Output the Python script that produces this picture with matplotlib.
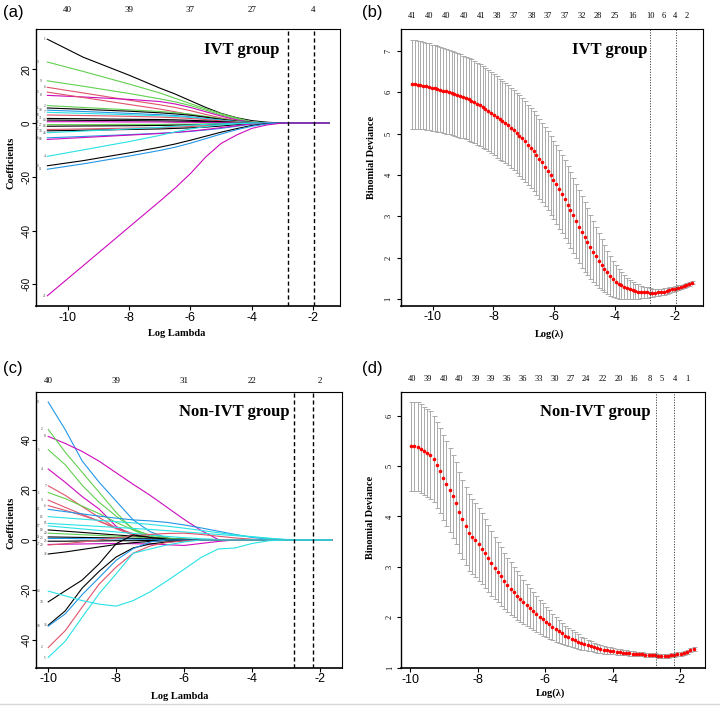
import numpy as np
import matplotlib
matplotlib.use('Agg')
import matplotlib.pyplot as plt
from matplotlib.lines import Line2D

plt.rcParams['axes.unicode_minus'] = False
SERIF = 'Liberation Serif'
SANS = 'Liberation Sans'
# R default palette used by matplot (col = 1:6)
R_COLS = ['black', '#DF536B', '#61D04F', '#2297E6', '#28E2E5', '#CD0BBC']

# ---------------- (a) IVT group: coefficient paths ----------------
a_knots = [-10.67, -9.5, -8.0, -7.0, -6.5, -6.0, -5.5, -5.0, -4.5, -4.0, -3.5, -3.0, -1.49]
a_paths = [
    [31.2, 24.5, 17.8, 13.0, 10.8, 8.3, 5.8, 3.6, 2.0, 0.9, 0.3, 0, 0],
    [22.7, 19.2, 14.5, 11.2, 9.2, 7.2, 5.3, 3.5, 1.9, 0.5, 0.1, 0, 0],
    [15.7, 13.7, 11.0, 9.0, 7.9, 6.5, 4.8, 3.0, 1.5, 0.2, 0, 0, 0],
    [13.3, 11.2, 8.5, 6.8, 5.8, 4.6, 3.2, 1.9, 0.9, 0.2, 0, 0, 0],
    [10.3, 9.7, 8.8, 8.0, 7.1, 5.8, 4.2, 2.6, 1.2, 0.3, 0, 0, 0],
    [11.5, 9.5, 6.9, 5.2, 4.2, 3.1, 2.1, 1.3, 0.6, 0.1, 0, 0, 0],
    [6.5, 5.8, 4.9, 4.3, 3.9, 3.3, 2.5, 1.6, 0.8, 0.2, 0, 0, 0],
    [5.6, 5.1, 4.4, 3.8, 3.4, 2.9, 2.2, 1.4, 0.7, 0.2, 0, 0, 0],
    [4.8, 4.3, 3.6, 3.1, 2.8, 2.3, 1.7, 1.1, 0.5, 0.1, 0, 0, 0],
    [4.0, 3.6, 3.1, 2.7, 2.5, 2.1, 1.6, 1.0, 0.5, 0.1, 0, 0, 0],
    [3.0, 2.8, 2.5, 2.2, 2.0, 1.7, 1.3, 0.8, 0.4, 0.1, 0, 0, 0],
    [1.7, 1.6, 1.4, 1.3, 1.2, 1.0, 0.8, 0.5, 0.2, 0, 0, 0, 0],
    [1.1, 1.0, 0.9, 0.8, 0.7, 0.6, 0.5, 0.3, 0.1, 0, 0, 0, 0],
    [0.5, 0.5, 0.4, 0.4, 0.3, 0.3, 0.2, 0.1, 0.05, 0, 0, 0, 0],
    [-0.6, -0.6, -0.5, -0.5, -0.4, -0.4, -0.3, -0.2, -0.1, 0, 0, 0, 0],
    [-1.2, -1.1, -1.0, -0.9, -0.8, -0.7, -0.6, -0.4, -0.2, 0, 0, 0, 0],
    [-2.4, -2.2, -1.9, -1.7, -1.5, -1.3, -1.0, -0.7, -0.4, -0.1, 0, 0, 0],
    [-2.9, -2.7, -2.4, -2.2, -2.0, -1.8, -1.5, -1.1, -0.6, -0.2, 0, 0, 0],
    [-3.6, -3.0, -2.2, -1.6, -1.2, -0.8, -0.5, -0.3, -0.1, 0, 0, 0, 0],
    [-5.5, -5.0, -4.3, -3.8, -3.5, -3.1, -2.6, -2.0, -1.2, -0.4, 0, 0, 0],
    [-6.1, -5.4, -4.5, -3.9, -3.5, -3.0, -2.4, -1.7, -1.0, -0.3, 0, 0, 0],
    [-12.4, -10.0, -6.9, -4.6, -3.3, -2.2, -1.3, -0.7, -0.3, 0, 0, 0, 0],
    [-15.9, -14.0, -11.1, -9.0, -7.8, -6.4, -4.9, -3.4, -2.1, -0.9, -0.2, 0, 0],
    [-17.2, -15.2, -12.3, -10.2, -9.0, -7.5, -5.8, -4.1, -2.5, -1.2, -0.3, 0, 0],
    [-64.3, -53.1, -38.7, -29.1, -24.2, -18.8, -12.6, -7.6, -4.5, -2.0, -0.7, 0, 0],
]
a_colors = [0, 2, 2, 1, 5, 1, 2, 0, 3, 4, 1, 0, 0, 5, 2, 0, 1, 0, 4, 3, 5, 4, 0, 3, 5]
a_tags = ['1', '3', '9', '6', '8', '5', '2', '35', '30', '7', '24', '31', '14', '22', '27',
          '16', '12', '34', '26', '33', '18', '4', '10', '11', '41']
a_top_pos = [-10, -8, -6, -4, -2]
a_top_lab = ['40', '39', '37', '27', '4']
a_vlines = [-2.83, -1.98]

# ---------------- (b) IVT group: cross-validation curve ----------------
b_range = (-10.69, -1.45)
b_mean = [6.19, 6.19, 6.18, 6.17, 6.16, 6.14, 6.13, 6.11, 6.10, 6.08,
          6.06, 6.04, 6.02, 6.00, 5.98, 5.96, 5.93, 5.91, 5.88, 5.86,
          5.83, 5.79, 5.76, 5.72, 5.68, 5.64, 5.60, 5.55, 5.50, 5.45,
          5.40, 5.35, 5.30, 5.25, 5.20, 5.14, 5.08, 5.02, 4.95, 4.88,
          4.81, 4.73, 4.65, 4.57, 4.48, 4.39, 4.30, 4.20, 4.10, 3.99,
          3.88, 3.77, 3.65, 3.53, 3.41, 3.28, 3.15, 3.02, 2.89, 2.75,
          2.62, 2.50, 2.38, 2.26, 2.14, 2.03, 1.93, 1.83, 1.73, 1.64,
          1.56, 1.49, 1.42, 1.37, 1.33, 1.29, 1.26, 1.23, 1.21, 1.19,
          1.18, 1.17, 1.16, 1.16, 1.15, 1.15, 1.15, 1.16, 1.17, 1.18,
          1.20, 1.21, 1.23, 1.25, 1.27, 1.29, 1.31, 1.33, 1.36, 1.39]
b_se = [1.07, 1.07, 1.06, 1.06, 1.06, 1.05, 1.05, 1.04, 1.04, 1.04,
        1.03, 1.03, 1.03, 1.02, 1.02, 1.02, 1.01, 1.01, 1.00, 1.00,
        1.00, 1.00, 0.99, 0.99, 0.99, 0.99, 0.98, 0.98, 0.98, 0.98,
        0.98, 0.98, 0.97, 0.97, 0.97, 0.97, 0.97, 0.97, 0.97, 0.97,
        0.97, 0.97, 0.97, 0.97, 0.97, 0.97, 0.96, 0.96, 0.96, 0.96,
        0.95, 0.95, 0.95, 0.94, 0.94, 0.93, 0.92, 0.91, 0.90, 0.88,
        0.86, 0.84, 0.81, 0.78, 0.74, 0.70, 0.66, 0.61, 0.57, 0.52,
        0.48, 0.44, 0.40, 0.36, 0.32, 0.28, 0.25, 0.22, 0.20, 0.18,
        0.17, 0.15, 0.14, 0.13, 0.11, 0.10, 0.09, 0.09, 0.08, 0.08,
        0.07, 0.07, 0.06, 0.06, 0.06, 0.05, 0.05, 0.05, 0.04, 0.04]
b_top_pos = [-10.69, -10.11, -9.55, -8.98, -8.42, -7.88, -7.33, -6.75, -6.20,
             -5.64, -5.10, -4.55, -4.01, -3.40, -2.83, -2.37, -2.01, -1.63]
b_top_lab = ['41', '40', '40', '40', '41', '38', '37', '38', '37',
             '37', '32', '28', '25', '16', '10', '6', '4', '2']
b_vlines = [-2.83, -1.98]

# ---------------- (c) Non-IVT group: coefficient paths ----------------
c_knots = [-10.0, -9.5, -9.0, -8.5, -8.0, -7.5, -7.0, -6.5, -6.0, -5.5, -5.0, -4.5, -4.0, -3.5, -3.0, -1.66]
c_paths = [
    [55.0, 44.0, 31.5, 23.0, 15.5, 8.0, 3.3, 0.7, 0, 0, 0, 0, 0, 0, 0, 0],
    [41.3, 38.5, 35.3, 31.4, 26.8, 22.2, 17.8, 13.0, 8.2, 3.8, 0.2, 0, 0, 0, 0, 0],
    [44.1, 35.0, 27.0, 19.0, 11.0, 4.0, 0.8, 0, 0, 0, 0, 0, 0, 0, 0, 0],
    [36.0, 30.0, 21.8, 15.0, 9.5, 4.5, 1.5, 0.2, 0, 0, 0, 0, 0, 0, 0, 0],
    [28.3, 23.0, 17.3, 12.3, 5.4, 1.8, 0.3, 0, 0, 0, 0, 0, 0, 0, 0, 0],
    [21.6, 17.8, 13.3, 9.0, 4.7, 2.0, 0.5, 0, 0, 0, 0, 0, 0, 0, 0, 0],
    [18.9, 16.5, 13.5, 10.5, 7.0, 4.0, 2.0, 0.8, 0.2, 0, 0, 0, 0, 0, 0, 0],
    [15.9, 13.0, 10.2, 7.5, 4.5, 2.0, 0.6, 0, 0, 0, 0, 0, 0, 0, 0, 0],
    [13.7, 11.8, 9.8, 7.5, 4.8, 2.5, 1.0, 0.3, 0, 0, 0, 0, 0, 0, 0, 0],
    [12.2, 11.3, 10.4, 9.5, 8.7, 8.0, 7.6, 7.0, 6.0, 4.8, 3.5, 2.2, 1.0, 0.3, 0, 0],
    [9.3, 8.8, 8.3, 7.8, 7.3, 6.8, 6.2, 5.5, 4.7, 3.8, 2.9, 2.0, 1.3, 0.7, 0.2, 0],
    [6.6, 6.2, 5.8, 5.4, 5.0, 4.6, 4.2, 3.7, 3.2, 2.7, 2.2, 1.7, 1.2, 0.6, 0.1, 0],
    [5.6, 5.0, 4.4, 3.8, 3.2, 2.6, 2.0, 1.4, 0.9, 0.5, 0.2, 0, 0, 0, 0, 0],
    [4.0, 3.5, 3.0, 2.5, 2.0, 1.5, 1.0, 0.6, 0.3, 0, 0, 0, 0, 0, 0, 0],
    [2.7, 2.4, 2.1, 1.8, 1.5, 1.2, 0.9, 0.6, 0.3, 0, 0, 0, 0, 0, 0, 0],
    [1.2, 1.1, 1.0, 0.9, 0.8, 0.6, 0.4, 0.2, 0, 0, 0, 0, 0, 0, 0, 0],
    [0.6, 0.6, 0.5, 0.5, 0.4, 0.3, 0.2, 0.1, 0, 0, 0, 0, 0, 0, 0, 0],
    [-0.5, -0.5, -0.4, -0.4, -0.3, -0.3, -0.2, -0.1, 0, 0, 0, 0, 0, 0, 0, 0],
    [-1.8, -1.7, -1.6, -1.5, -1.4, -1.5, -1.6, -1.9, -2.2, -1.4, -0.6, 0, 0, 0, 0, 0],
    [-2.0, -1.5, -0.8, 0, 0.8, 1.6, 2.2, 2.6, 2.7, 2.2, 1.5, 0.8, 0.3, 0, 0, 0],
    [-5.6, -4.8, -3.8, -2.8, -1.8, -1.1, -0.6, -0.3, -0.1, 0, 0, 0, 0, 0, 0, 0],
    [-24.7, -20.3, -16.0, -9.5, -1.5, 2.0, 1.0, 0.3, 0, 0, 0, 0, 0, 0, 0, 0],
    [-34.0, -28.3, -19.2, -12.5, -6.8, -3.2, -1.6, -0.8, -0.3, 0, 0, 0, 0, 0, 0, 0],
    [-34.4, -29.5, -21.8, -15.0, -8.1, -3.5, -0.8, 0, 0, 0, 0, 0, 0, 0, 0, 0],
    [-42.9, -36.2, -26.8, -17.6, -10.8, -5.3, -2.4, -1.0, -0.4, 0, 0, 0, 0, 0, 0, 0],
    [-46.9, -40.4, -30.8, -21.4, -13.5, -5.3, -3.6, -2.0, -0.8, 0, 0, 0, 0, 0, 0, 0],
    [-20.4, -22.3, -24.2, -25.6, -26.4, -24.2, -20.7, -16.3, -11.7, -7.0, -3.6, -3.2, -1.4, -0.3, 0, 0],
]
c_colors = [3, 5, 2, 2, 5, 1, 2, 1, 1, 3, 4, 4, 4, 0, 2, 0, 3, 0, 5, 1, 0, 0, 0, 3, 1, 4, 4]
c_tags = ['9', '8', '2', '5', '4', '7', '1', '3', '6', '11', '12', '15', '17', '19', '20',
          '21', '23', '25', '27', '29', '32', '34', '36', '38', '2', '5', '14']
c_top_pos = [-10, -8, -6, -4, -2]
c_top_lab = ['40', '39', '31', '22', '2']
c_vlines = [-2.75, -2.2]

# ---------------- (d) Non-IVT group: cross-validation curve ----------------
d_range = (-9.97, -1.60)
d_mean = [5.39, 5.39, 5.38, 5.34, 5.30, 5.26, 5.21, 5.14, 5.02, 4.91,
          4.77, 4.65, 4.52, 4.40, 4.26, 4.08, 3.94, 3.81, 3.68, 3.60,
          3.53, 3.45, 3.36, 3.27, 3.17, 3.07, 2.98, 2.90, 2.81, 2.72,
          2.64, 2.57, 2.50, 2.43, 2.37, 2.30, 2.24, 2.18, 2.12, 2.07,
          2.01, 1.96, 1.91, 1.86, 1.81, 1.76, 1.72, 1.68, 1.64, 1.61,
          1.58, 1.55, 1.52, 1.49, 1.47, 1.45, 1.43, 1.41, 1.39, 1.37,
          1.36, 1.35, 1.34, 1.33, 1.32, 1.31, 1.30, 1.30, 1.29, 1.28,
          1.28, 1.27, 1.27, 1.26, 1.26, 1.25, 1.25, 1.24, 1.24, 1.24,
          1.24, 1.25, 1.26, 1.27, 1.28, 1.30, 1.32, 1.35, 1.38]
d_se = [0.88, 0.88, 0.88, 0.88, 0.87, 0.87, 0.87, 0.86, 0.86, 0.85,
        0.85, 0.84, 0.83, 0.82, 0.81, 0.80, 0.79, 0.77, 0.76, 0.75,
        0.73, 0.72, 0.70, 0.68, 0.66, 0.64, 0.62, 0.60, 0.58, 0.56,
        0.54, 0.52, 0.50, 0.48, 0.46, 0.44, 0.42, 0.40, 0.38, 0.36,
        0.34, 0.32, 0.30, 0.28, 0.26, 0.24, 0.22, 0.20, 0.19, 0.18,
        0.16, 0.15, 0.14, 0.13, 0.12, 0.11, 0.10, 0.09, 0.09, 0.08,
        0.08, 0.07, 0.07, 0.06, 0.06, 0.06, 0.05, 0.05, 0.05, 0.05,
        0.04, 0.04, 0.04, 0.04, 0.04, 0.04, 0.04, 0.04, 0.04, 0.04,
        0.04, 0.04, 0.04, 0.04, 0.04, 0.04, 0.04, 0.04, 0.04]
d_top_pos = [-9.95, -9.48, -9.00, -8.55, -8.05, -7.60, -7.13, -6.65, -6.18, -5.70,
             -5.25, -4.78, -4.30, -3.83, -3.37, -2.91, -2.53, -2.16, -1.78]
d_top_lab = ['40', '39', '40', '40', '39', '39', '36', '36', '33', '30',
             '27', '24', '22', '20', '16', '8', '5', '4', '1']
d_vlines = [-2.72, -2.18]

W, H = 720, 707
fig = plt.figure(figsize=(W / 100, H / 100), dpi=100)


def px_axes(left, top, right, bottom):
    return fig.add_axes([left / W, 1 - bottom / H, (right - left) / W, (bottom - top) / H])


def frame(ax, xlim, ylim, yticks, ysize, yfamily, xpad, ypad):
    ax.set_xlim(*xlim)
    ax.set_ylim(*ylim)
    ax.set_xticks([-10, -8, -6, -4, -2])
    ax.set_yticks(yticks)
    for s in ax.spines.values():
        s.set_linewidth(0.8)
    ax.spines['bottom'].set_linewidth(1.2)
    ax.spines['left'].set_linewidth(1.0)
    ax.tick_params(axis='x', direction='out', length=3, width=0.8, labelsize=9, pad=xpad)
    ax.tick_params(axis='y', direction='out', length=3, width=0.8, labelsize=ysize,
                   pad=ypad, labelrotation=90)
    for lbl in ax.get_xticklabels():
        lbl.set_fontfamily(SANS)
    for lbl in ax.get_yticklabels():
        lbl.set_fontfamily(yfamily)
        lbl.set_va('center')


def top_axis(ax, pos, labels, size, pad):
    sec = ax.secondary_xaxis('top')
    sec.set_xticks(pos, labels)
    sec.tick_params(length=0, labelsize=size, pad=pad)
    sec.spines['top'].set_visible(False)
    for lbl in sec.get_xticklabels():
        lbl.set_fontfamily(SERIF)


def labels(ax, xl, yl, xpos, ypos):
    ax.set_xlabel(xl, fontsize=7.5, fontweight='bold', family=SERIF, va='center')
    ax.set_ylabel(yl, fontsize=7.5, fontweight='bold', family=SERIF, va='center')
    ax.xaxis.set_label_coords(*xpos)
    ax.yaxis.set_label_coords(*ypos)


def path_panel(ax, knots, paths, colors, tags, vlines):
    for vals, ci in zip(paths, colors):
        ax.plot(knots, vals, color=R_COLS[ci], lw=0.8)
    # variable numbers at the left end, staggered in three narrow columns
    order = np.argsort([p[0] for p in paths])
    for rank, i in enumerate(order):
        ax.annotate(tags[i], (knots[0], paths[i][0]), xytext=(-2.2 - 2.5 * (rank % 3), 0),
                    textcoords='offset points', fontsize=2.5, family=SERIF,
                    ha='center', va='center', color='#333333')
    for v in vlines:
        ax.axvline(v, color='black', lw=1.0, ls=(0, (3, 2)))


def cv_panel(ax, rng, mean, se, vlines):
    x = np.linspace(rng[0], rng[1], len(mean))
    ax.errorbar(x, mean, yerr=se, fmt='none', ecolor='#aaaaaa', elinewidth=0.7,
                capsize=1.8, capthick=0.7)
    ax.plot(x, mean, 'o', color='red', ms=2.6, mec='none')
    for v in vlines:
        ax.axvline(v, color='#444444', lw=0.7, ls=(0, (1.2, 1.5)))


# (a)
ax_a = px_axes(36, 29, 340, 306)
path_panel(ax_a, a_knots, a_paths, a_colors, a_tags, a_vlines)
frame(ax_a, (-11.04, -1.12), (-68.1, 35.0), [-60, -40, -20, 0, 20], 7, SANS, 1.5, 0.0)
top_axis(ax_a, a_top_pos, a_top_lab, 6.5, 11)
labels(ax_a, 'Log Lambda', 'Coefficients', (0.464, -0.101), (-0.082, 0.516))
ax_a.text(0.677, 0.924, 'IVT group', transform=ax_a.transAxes, ha='center', va='center',
          fontsize=12, fontweight='bold', family=SERIF)

# (b)
ax_b = px_axes(400.7, 29.3, 703.3, 306)
cv_panel(ax_b, b_range, b_mean, b_se, b_vlines)
frame(ax_b, (-11.06, -1.08), (0.83, 7.52), [1, 2, 3, 4, 5, 6, 7], 6, SERIF, 0.5, 3)
top_axis(ax_b, b_top_pos, b_top_lab, 6, 6.5)
labels(ax_b, 'Log(λ)', 'Binomial Deviance', (0.493, -0.101), (-0.098, 0.538))
ax_b.text(0.692, 0.924, 'IVT group', transform=ax_b.transAxes, ha='center', va='center',
          fontsize=12, fontweight='bold', family=SERIF)

# (c)
ax_c = px_axes(36, 392.3, 341.7, 668.3)
path_panel(ax_c, c_knots, c_paths, c_colors, c_tags, c_vlines)
frame(ax_c, (-10.36, -1.36), (-51.2, 58.9), [-40, -20, 0, 20, 40], 7, SANS, 0.5, 0.0)
top_axis(ax_c, c_top_pos, c_top_lab, 6.5, 5)
labels(ax_c, 'Log Lambda', 'Coefficients', (0.471, -0.103), (-0.082, 0.526))
ax_c.text(0.65, 0.93, 'Non-IVT group', transform=ax_c.transAxes, ha='center', va='center',
          fontsize=12, fontweight='bold', family=SERIF)

# (d)
ax_d = px_axes(400.7, 392.3, 705, 668.3)
cv_panel(ax_d, d_range, d_mean, d_se, d_vlines)
frame(ax_d, (-10.28, -1.26), (0.99, 6.46), [1, 2, 3, 4, 5, 6], 6, SERIF, 1, 2)
top_axis(ax_d, d_top_pos, d_top_lab, 6, 6.5)
labels(ax_d, 'Log(λ)', 'Binomial Deviance', (0.491, -0.091), (-0.098, 0.545))
ax_d.text(0.639, 0.93, 'Non-IVT group', transform=ax_d.transAxes, ha='center', va='center',
          fontsize=12, fontweight='bold', family=SERIF)

# panel letters
for tx, ty, lab in [(3, 13, '(a)'), (362, 13, '(b)'), (3, 368, '(c)'), (362, 368, '(d)')]:
    fig.text(tx / W, 1 - ty / H, lab, fontsize=12, family=SANS, ha='left', va='center')

# thin grey rule at the very bottom of the figure
fig.add_artist(Line2D([0, 1], [1 - 704 / H, 1 - 704 / H], color='#d8d8d8', lw=1.0))

fig.savefig('out.png', dpi=100)
